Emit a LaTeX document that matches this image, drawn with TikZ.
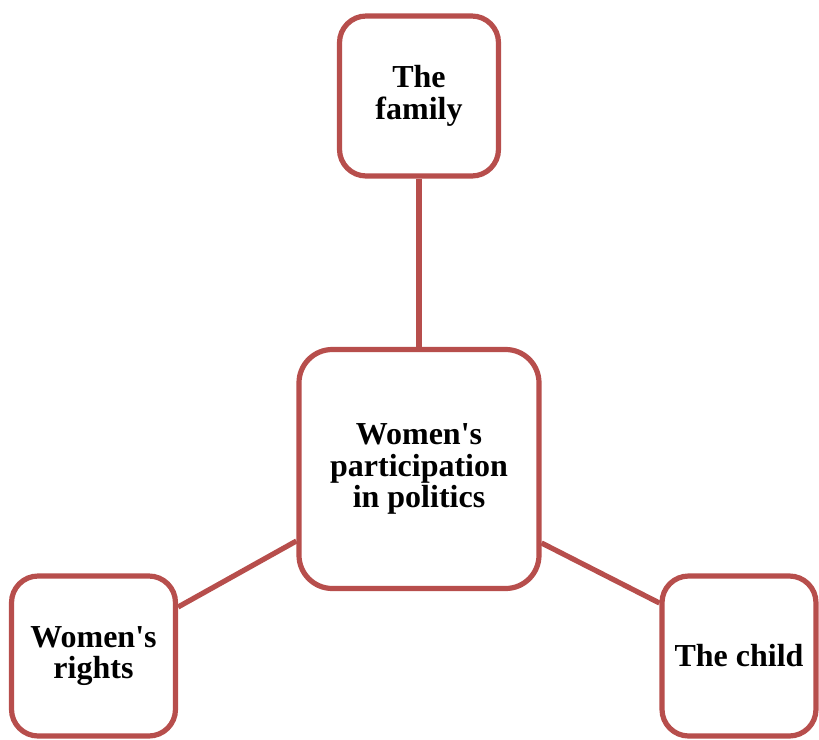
\documentclass[tikz,border=0pt]{standalone}
\usepackage{fontspec}
\setmainfont{Liberation Serif}
\definecolor{boxred}{RGB}{183,78,76}
\begin{document}
\begin{tikzpicture}[x=0.75pt,y=-0.75pt,
  rbox/.style={draw=boxred,line width=3.9pt,rounded corners=20pt,fill=white,
    align=center,inner sep=0pt,
    font=\fontsize{24}{23.5}\selectfont\bfseries},
  link/.style={draw=boxred,line width=3.9pt}]
\useasboundingbox (0,0) rectangle (819,740);
\node[rbox,rounded corners=25pt,minimum width=240*0.75pt,minimum height=239*0.75pt] (c) at (419,469) {Women\textquotesingle s\\participation\\in politics};
\node[rbox,minimum width=159*0.75pt,minimum height=160*0.75pt] (f) at (419,96) {The\\family};
\node[rbox,minimum width=164*0.75pt,minimum height=160*0.75pt] (r) at (93.5,656) {Women\textquotesingle s\\rights};
\node[rbox,minimum width=154*0.75pt,minimum height=160*0.75pt] (k) at (739,656) {The child};
\draw[link] (f.south) -- (c.north);
\draw[link] ([yshift=-72*0.75pt]c.west) -- ([yshift=49*0.75pt]r.east);
\draw[link] ([yshift=-74*0.75pt]c.east) -- ([yshift=53*0.75pt]k.west);
\end{tikzpicture}
\end{document}
